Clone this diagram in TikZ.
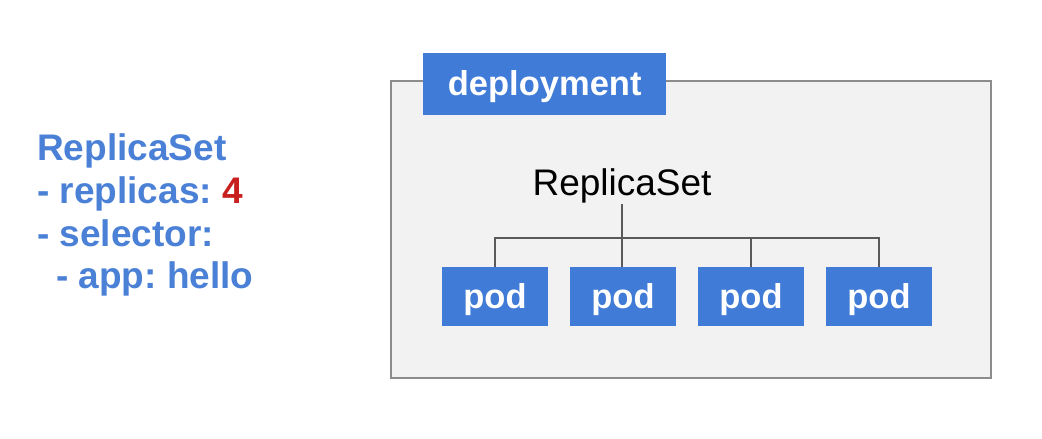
\documentclass[tikz,border=0pt]{standalone}
\usepackage{fontspec}
\setmainfont{Liberation Sans}
\frenchspacing
\definecolor{boxblue}{HTML}{3F7BD7}
\definecolor{txtblue}{HTML}{4A80D6}
\definecolor{numred}{HTML}{C8201E}
\definecolor{panel}{HTML}{F2F2F2}
\definecolor{panelline}{HTML}{8C8C8C}
\definecolor{wire}{HTML}{5A5A5A}
\newcommand{\lowtext}[2]{\raisebox{-#1}[0pt][0pt]{#2}}
\tikzset{
  bluebox/.style={rectangle, fill=boxblue, draw=none, inner sep=0pt, text=white, font=\fontsize{34.5}{40}\selectfont\bfseries},
  podbox/.style={bluebox, minimum width=106pt, minimum height=59pt},
  specline/.style={anchor=base west, inner sep=0pt, text=txtblue, font=\fontsize{37}{44}\selectfont\bfseries},
  wireline/.style={draw=wire, line width=1.5pt}
}
\begin{document}
\begin{tikzpicture}[x=1pt,y=-1pt]
\useasboundingbox[fill=white] (0,0) rectangle (1042,439);
% panel
\node[draw=panelline, fill=panel, line width=1.5pt, minimum width=600pt, minimum height=297pt, inner sep=0pt, anchor=north west] (panel) at (390,80) {};
\node[bluebox, minimum width=243pt, minimum height=62pt, anchor=north west] (dep) at (423,53) {\lowtext{11pt}{deployment}};
% replicaset label
\node[inner sep=1pt, font=\fontsize{37}{44}\selectfont] (rs) at (622,186) {ReplicaSet};
% pods
\node[podbox] (p1) at (495,296.5) {\lowtext{12pt}{pod}};
\node[podbox] (p2) at (623,296.5) {\lowtext{12pt}{pod}};
\node[podbox] (p3) at (751,296.5) {\lowtext{12pt}{pod}};
\node[podbox] (p4) at (879,296.5) {\lowtext{12pt}{pod}};
\coordinate (bar) at (622,238);
\draw[wireline] (rs.south) -- (rs.south |- p2.north);
\draw[wireline] (p1.north) -- (p1.north |- bar) -- (p4.north |- bar) -- (p4.north);
\draw[wireline] (p3.north) -- (p3.north |- bar);
% spec text
\node[specline] (l1) at (37,160) {ReplicaSet};
\node[specline] (l2) at (37,203) {- replicas: \textcolor{numred}{4}};
\node[specline] (l3) at (37,246) {- selector:};
\node[specline] (l4) at (56,288) {- app: hello};
\end{tikzpicture}
\end{document}
